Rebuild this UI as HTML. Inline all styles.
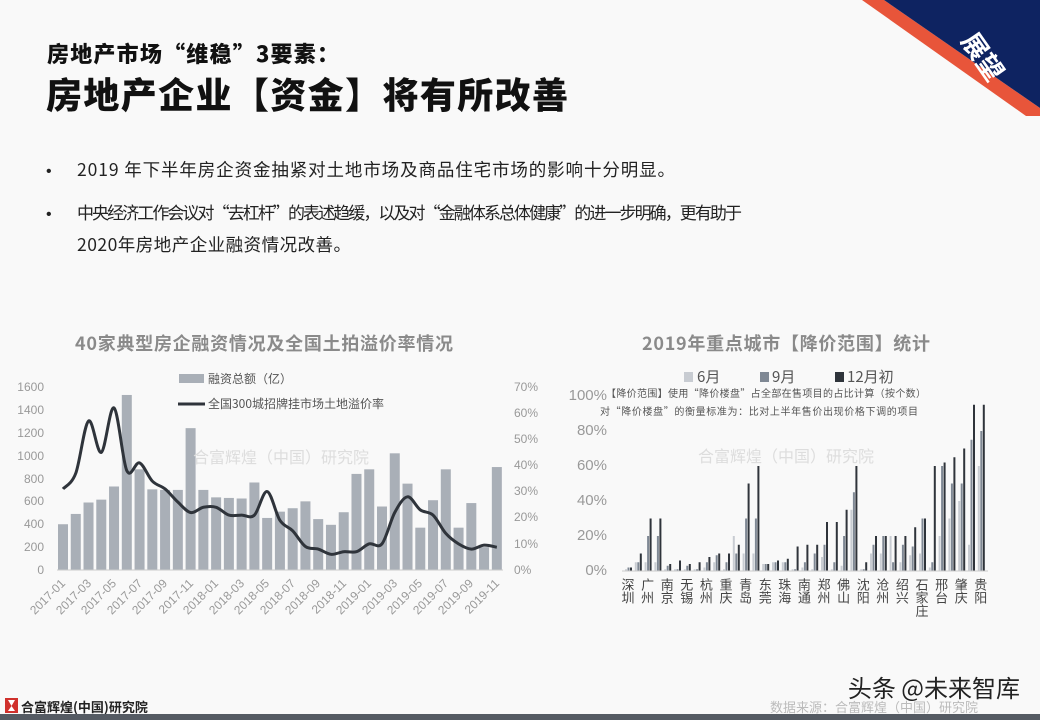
<!DOCTYPE html>
<html><head><meta charset="utf-8">
<style>
body{margin:0;width:1040px;height:720px;background:#f9f9f9;overflow:hidden;font-family:"Liberation Sans","Noto Sans CJK SC",sans-serif;}
svg{position:absolute;left:0;top:0}
.cj{font-family:"Noto Sans CJK SC","Liberation Sans",sans-serif}
</style></head>
<body>
<svg id="s" width="1040" height="720" viewBox="0 0 1040 720" font-family="Liberation Sans, Noto Sans CJK SC, sans-serif">
<polygon points="862,0 884,0 1040,108 1040,116 1026,116" fill="#e8553a"/>
<polygon points="884,0 1040,0 1040,108" fill="#0e2361"/>
<text x="0" y="0" transform="translate(975,62) rotate(55)" font-size="26" font-weight="bold" fill="#fff" text-anchor="middle" class="cj">展望</text>
<text x="47" y="62" font-size="22" font-weight="900" fill="#111" class="cj" textLength="292">房地产市场“维稳”3要素：</text>
<text x="46" y="108" font-size="36" font-weight="900" fill="#111" class="cj" textLength="522">房地产企业【资金】将有所改善</text>
<text x="46" y="176" font-size="16" fill="#222">•</text>
<text x="77" y="176" font-size="17.5" fill="#222" class="cj" textLength="598">2019 年下半年房企资金抽紧对土地市场及商品住宅市场的影响十分明显。</text>
<text x="46" y="219" font-size="16" fill="#222">•</text>
<text x="77" y="219" font-size="17" fill="#222" class="cj" textLength="665">中央经济工作会议对“去杠杆”的表述趋缓，以及对“金融体系总体健康”的进一步明确，更有助于</text>
<text x="77" y="251" font-size="17.5" fill="#222" class="cj" textLength="274">2020年房地产企业融资情况改善。</text>
<text x="264" y="350" font-size="18" font-weight="bold" fill="#8a8a8a" text-anchor="middle" class="cj" textLength="378">40家典型房企融资情况及全国土拍溢价率情况</text>
<text x="786" y="350" font-size="18" font-weight="bold" fill="#8a8a8a" text-anchor="middle" class="cj" textLength="288">2019年重点城市【降价范围】统计</text>
<g font-size="12" fill="#999" text-anchor="end">
<text x="44" y="391">1600</text><text x="44" y="414">1400</text><text x="44" y="437">1200</text><text x="44" y="460">1000</text><text x="44" y="483">800</text><text x="44" y="505">600</text><text x="44" y="528">400</text><text x="44" y="551">200</text><text x="44" y="574">0</text>
</g>
<g font-size="12" fill="#999">
<text x="514" y="391">70%</text><text x="514" y="417">60%</text><text x="514" y="443">50%</text><text x="514" y="469">40%</text><text x="514" y="495">30%</text><text x="514" y="521">20%</text><text x="514" y="548">10%</text><text x="514" y="574">0%</text>
</g>
<g id="lb"></g>
<line x1="57" y1="570" x2="503" y2="570" stroke="#ccc" stroke-width="1"/>
<path id="ln" fill="none" stroke="#2f343b" stroke-width="3"/>
<rect x="179" y="374" width="25" height="9" fill="#a9afb7"/>
<text x="208" y="383" font-size="12" fill="#555" class="cj">融资总额（亿）</text>
<line x1="178" y1="404" x2="205" y2="404" stroke="#2f343b" stroke-width="3"/>
<text x="208" y="408" font-size="12" fill="#555" class="cj">全国300城招牌挂市场土地溢价率</text>
<text x="281" y="463" font-size="16" fill="#ddd" text-anchor="middle" class="cj">合富辉煌（中国）研究院</text>
<g id="lx" font-size="12" fill="#999" text-anchor="end">
<text transform="translate(66,584) rotate(-45)">2017-01</text>
<text transform="translate(92,584) rotate(-45)">2017-03</text>
<text transform="translate(117,584) rotate(-45)">2017-05</text>
<text transform="translate(143,584) rotate(-45)">2017-07</text>
<text transform="translate(168,584) rotate(-45)">2017-09</text>
<text transform="translate(194,584) rotate(-45)">2017-11</text>
<text transform="translate(219,584) rotate(-45)">2018-01</text>
<text transform="translate(245,584) rotate(-45)">2018-03</text>
<text transform="translate(270,584) rotate(-45)">2018-05</text>
<text transform="translate(296,584) rotate(-45)">2018-07</text>
<text transform="translate(321,584) rotate(-45)">2018-09</text>
<text transform="translate(347,584) rotate(-45)">2018-11</text>
<text transform="translate(372,584) rotate(-45)">2019-01</text>
<text transform="translate(398,584) rotate(-45)">2019-03</text>
<text transform="translate(423,584) rotate(-45)">2019-05</text>
<text transform="translate(449,584) rotate(-45)">2019-07</text>
<text transform="translate(474,584) rotate(-45)">2019-09</text>
<text transform="translate(500,584) rotate(-45)">2019-11</text>
</g>
<g font-size="15" fill="#999" text-anchor="end">
<text x="607" y="400">100%</text><text x="607" y="435">80%</text><text x="607" y="470">60%</text><text x="607" y="505">40%</text><text x="607" y="540">20%</text><text x="607" y="575">0%</text>
</g>
<text x="786" y="462" font-size="16" fill="#ddd" text-anchor="middle" class="cj">合富辉煌（中国）研究院</text>
<rect x="684" y="372" width="9" height="10" fill="#c8ccd2"/><text x="697" y="382" font-size="15" fill="#555" class="cj">6月</text>
<rect x="760" y="372" width="9" height="10" fill="#7f8894"/><text x="772" y="382" font-size="15" fill="#555" class="cj">9月</text>
<rect x="835" y="372" width="9" height="10" fill="#2f343b"/><text x="847" y="382" font-size="15" fill="#555" class="cj">12月初</text>
<text x="766" y="397" font-size="10" fill="#555" text-anchor="middle" class="cj" textLength="320">【降价范围】使用“降价楼盘”占全部在售项目的占比计算（按个数）</text>
<text x="759" y="415" font-size="10" fill="#555" text-anchor="middle" class="cj" textLength="318">对“降价楼盘”的衡量标准为：比对上半年售价出现价格下调的项目</text>
<g id="rb"></g>
<line x1="622" y1="571" x2="988" y2="571" stroke="#ccc"/>
<g id="rx" font-size="13" fill="#444" class="cj"></g>
<text x="1020" y="697" font-size="24" fill="#222" text-anchor="end" class="cj">头条 @未来智库</text>
<text x="978" y="712" font-size="13" fill="#bbb" text-anchor="end" class="cj">数据来源：合富辉煌（中国）研究院</text>
<rect x="5" y="698" width="13" height="15" fill="#d0312d"/>
<polygon points="8,700 15,700 11.5,706" fill="#fff"/><polygon points="8,711 15,711 11.5,706" fill="#fff"/>
<text x="21" y="712" font-size="13" font-weight="bold" fill="#222" class="cj">合富辉煌(中国)研究院</text>
<rect x="0" y="714" width="1040" height="6" fill="#555b63"/>
</svg>
<script>
var NS="http://www.w3.org/2000/svg";
function el(p,t,a){var e=document.createElementNS(NS,t);for(var k in a)e.setAttribute(k,a[k]);p.appendChild(e);return e;}
var bars=[400,490,590,615,730,1530,880,705,700,700,1240,700,635,630,625,765,455,510,540,600,445,395,505,840,880,555,1020,755,370,610,880,370,585,200,900];
var line=[31,37,57,45,62,38,41,34,31,26,22,24,24,21,21,21,30,19,15,9,8,6,7,7,10,10,22,28,23,21,14,10,8,9.5,8.7];
var lb=document.getElementById("lb");
var pts=[];
for(var i=0;i<35;i++){var x=63+i*12.76;var h=bars[i]*0.1144;
el(lb,"rect",{x:x-5,y:570-h,width:10,height:h,fill:"#a9afb7"});
pts.push([x,570-line[i]*2.614]);}
var d="M"+pts[0][0]+","+pts[0][1];
for(var i=0;i<pts.length-1;i++){var p0=pts[Math.max(0,i-1)],p1=pts[i],p2=pts[i+1],p3=pts[Math.min(pts.length-1,i+2)];
d+=" C"+(p1[0]+(p2[0]-p0[0])/6)+","+(p1[1]+(p2[1]-p0[1])/6)+" "+(p2[0]-(p3[0]-p1[0])/6)+","+(p2[1]-(p3[1]-p1[1])/6)+" "+p2[0]+","+p2[1];}
document.getElementById("ln").setAttribute("d",d);
var a12=[2,10,30,30,4,6,4,5,8,10,10,15,50,60,4,6,7,14,15,15,28,28,35,60,5,20,20,20,20,25,30,60,62,65,70,95,95];
var a9=[2,5,20,20,3,1,3,1,5,9,5,10,30,30,4,5,5,1,5,10,15,5,20,45,1,15,20,5,15,14,30,5,60,50,50,75,80];
var a6=[1,5,5,5,1,1,1,1,2,5,1,20,10,10,4,5,5,1,2,1,8,1,3,35,1,10,10,20,5,9,10,2,20,30,40,15,60];
var rb=document.getElementById("rb");
for(var i=0;i<37;i++){var x=625+i*9.8;
[[a6,"#c8ccd2",0],[a9,"#7f8894",2.5],[a12,"#2f343b",5]].forEach(function(s){var h=s[0][i]*1.75;el(rb,"rect",{x:x+s[2],y:571-h,width:2,height:h,fill:s[1]});});}
var cities=["深圳","广州","南京","无锡","杭州","重庆","青岛","东莞","珠海","南通","郑州","佛山","沈阳","沧州","绍兴","石家庄","邢台","肇庆","贵阳"];
var rx=document.getElementById("rx");
cities.forEach(function(c,k){var x=625+k*19.6+3;var t=el(rx,"text",{x:x,y:578,"writing-mode":"tb","text-anchor":"start"});t.textContent=c;});
</script>
</body></html>
